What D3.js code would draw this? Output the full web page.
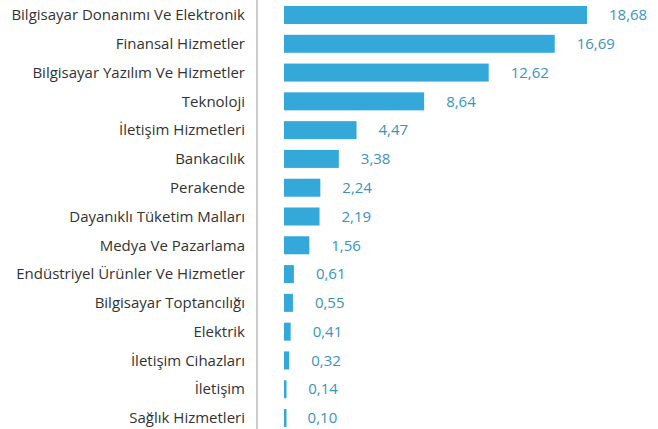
<!DOCTYPE html>
<html>
<head>
<meta charset="utf-8">
<script src="https://cdn.jsdelivr.net/npm/d3@7"></script>
<style>
  body { margin: 0; background: #fff; }
  svg { display: block; }
  text { font-family: "Open Sans", sans-serif; font-size: 15px; }
</style>
</head>
<body>
<svg id="chart"></svg>
<script>
// sector names, top to bottom
const sectors = [
    "Bilgisayar Donanımı Ve Elektronik",
    "Finansal Hizmetler",
    "Bilgisayar Yazılım Ve Hizmetler",
    "Teknoloji",
    "İletişim Hizmetleri",
    "Bankacılık",
    "Perakende",
    "Dayanıklı Tüketim Malları",
    "Medya Ve Pazarlama",
    "Endüstriyel Ürünler Ve Hizmetler",
    "Bilgisayar Toptancılığı",
    "Elektrik",
    "İletişim Cihazları",
    "İletişim",
    "Sağlık Hizmetleri"
];

const shares = [18.68, 16.69, 12.62, 8.64, 4.47, 3.38, 2.24, 2.19, 1.56, 0.61, 0.55, 0.41, 0.32, 0.14, 0.10];

const svgWidth = 658,
    svgHeight = 429;

const svg = d3.select("#chart")
    .attr("width", svgWidth)
    .attr("height", svgHeight);

const data = sectors.map((name, i) => ({ name: name, value: shares[i] }));

const xScale = d3.scaleLinear()
    .domain([0, 18.68])
    .range([284, 587]);

// row centres
const yScale = d3.scalePoint()
    .domain(sectors)
    .range([15, 418]);

const barHeight = 18;

// grey divider between labels and bars
svg.append("line")
    .attr("x1", 257)
    .attr("x2", 257)
    .attr("y1", 0)
    .attr("y2", svgHeight)
    .attr("stroke", "#cccccc")
    .attr("stroke-width", 2);

svg.selectAll("rect.bar")
    .data(data)
    .join("rect")
    .attr("class", "bar")
    .attr("x", xScale(0))
    .attr("y", d => yScale(d.name) - barHeight / 2)
    .attr("width", d => Math.max(2.5, xScale(d.value) - xScale(0)))
    .attr("height", barHeight)
    .attr("fill", "#34a8d8");

svg.selectAll("text.label")
    .data(data)
    .join("text")
    .attr("class", "label")
    .attr("x", 245)
    .attr("y", d => yScale(d.name))
    .attr("dy", "0.35em")
    .attr("text-anchor", "end")
    .attr("fill", "#333333")
    .text(d => d.name);

svg.selectAll("text.value")
    .data(data)
    .join("text")
    .attr("class", "value")
    .attr("x", d => xScale(d.value) + 22)
    .attr("y", d => yScale(d.name))
    .attr("dy", "0.35em")
    .attr("fill", "#3a93bd")
    .text(d => d3.format(".2f")(d.value).replace(".", ","));
</script>
</body>
</html>
